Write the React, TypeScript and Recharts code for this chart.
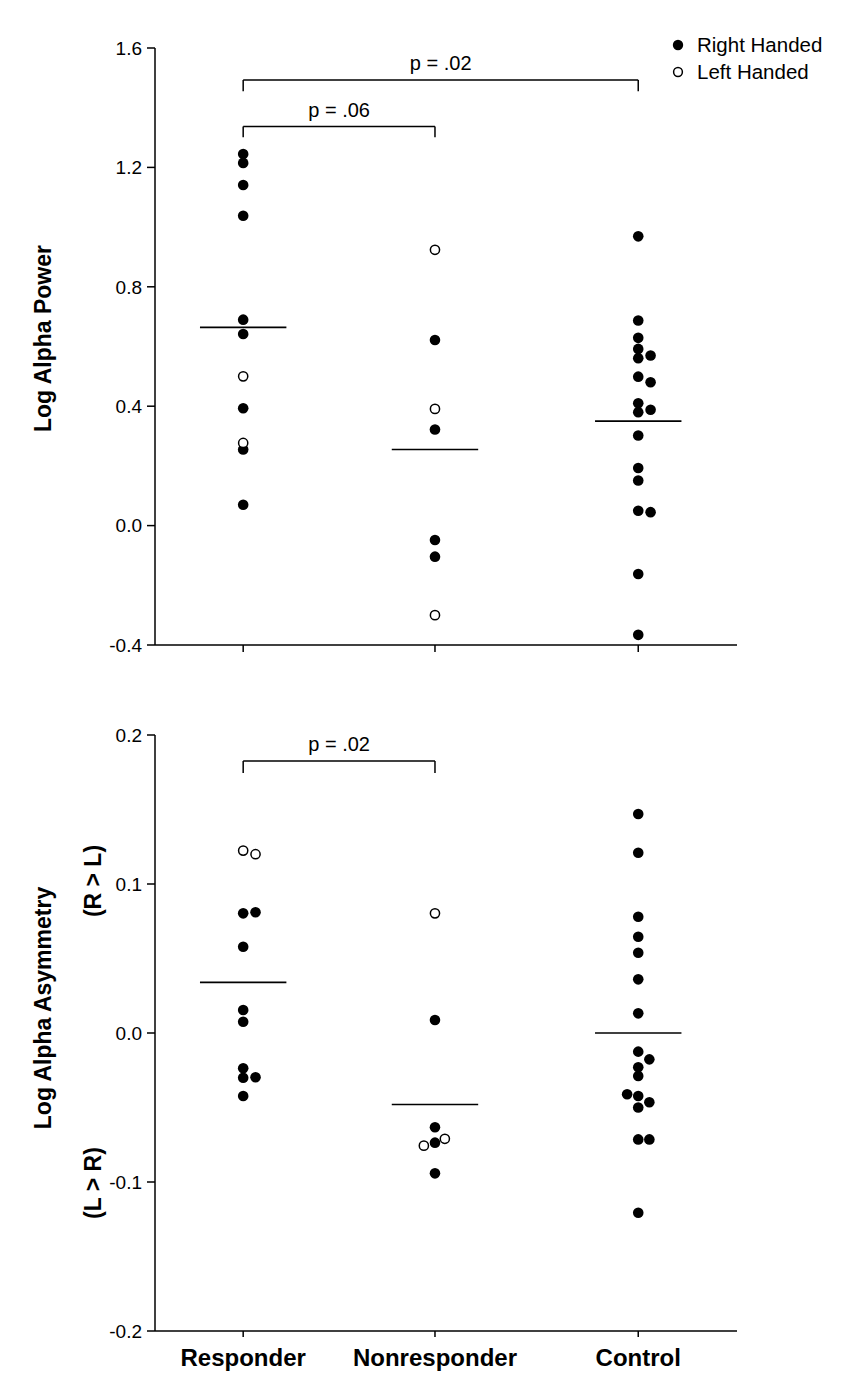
import React from 'react';
import { ScatterChart, Scatter, XAxis, YAxis, ReferenceLine, Label, Legend } from 'recharts';

// ---------- categories ----------
const categories = ['Responder', 'Nonresponder', 'Control'];
const categoryPos = [1, 3.175, 5.48];
const sideStep = 0.14;

// ---------- top panel: Log Alpha Power ----------
const powerTicks = [-0.4, 0, 0.4, 0.8, 1.2, 1.6];
const respPowerRight = [1.245, 1.215, 1.141, 1.038, 0.69, 0.642, 0.393, 0.255, 0.07];
const respPowerLeft = [0.5, 0.277];
const nonPowerRight = [0.622, 0.322, -0.048, -0.104];
const nonPowerLeft = [0.924, 0.391, -0.3];
const ctrlPowerRight = [0.969, 0.687, 0.629, 0.592, 0.561, 0.499, 0.41, 0.38, 0.302, 0.193, 0.151, 0.05, -0.162, -0.366];
const ctrlPowerRightShifted = [0.57, 0.48, 0.388, 0.045];
const powerMeans = [0.664, 0.255, 0.35];
const powerBrackets = [
  { from: 0, to: 2, y: 1.493, drop: 1.455, label: 'p = .02' },
  { from: 0, to: 1, y: 1.337, drop: 1.301, label: 'p = .06' },
];

// ---------- bottom panel: Log Alpha Asymmetry ----------
const asymTicks = [-0.2, -0.1, 0, 0.1, 0.2];
const respAsymRight = [0.0803, 0.0579, 0.0154, 0.0076, -0.0237, -0.03, -0.0423];
const respAsymRightShifted = [0.081, -0.0297];
const respAsymLeft = [0.1224];
const respAsymLeftShifted = [0.12];
const nonAsymRight = [0.0087, -0.0633, -0.0736, -0.0942];
const nonAsymLeft = [0.0803];
const nonAsymLeftShiftedR = [-0.071];
const nonAsymLeftShiftedL = [-0.0756];
const ctrlAsymRight = [0.147, 0.121, 0.078, 0.0646, 0.0539, 0.036, 0.0132, -0.0125, -0.023, -0.0289, -0.0423, -0.05, -0.0714, -0.1206];
const ctrlAsymRightShiftedR = [-0.0177, -0.0465, -0.0714];
const ctrlAsymRightShiftedL = [-0.0411];
const asymMeans = [0.034, -0.048, 0.0];
const asymBrackets = [{ from: 0, to: 1, y: 0.1826, drop: 0.1745, label: 'p = .02' }];

const legendItems = [
  { label: 'Right Handed', open: false },
  { label: 'Left Handed', open: true },
];

const FONT = '"Liberation Sans", Arial, Helvetica, sans-serif';
const INK = '#000';

const pts = (group: number, side: number, values: number[]) =>
  values.map((y) => ({ x: categoryPos[group] + side * sideStep, y }));

const FilledDot = (p: any) => <circle cx={p.cx} cy={p.cy} r={5.3} fill={INK} />;
const OpenDot = (p: any) => <circle cx={p.cx} cy={p.cy} r={4.6} fill="#fff" stroke={INK} strokeWidth={1.5} />;

const meanHalf = 0.49;

function meanLines(means: number[]) {
  return means.map((m, i) => (
    <ReferenceLine
      key={'mean' + i}
      segment={[{ x: categoryPos[i] - meanHalf, y: m }, { x: categoryPos[i] + meanHalf, y: m }]}
      stroke={INK}
      strokeWidth={1.6}
      ifOverflow="visible"
    />
  ));
}

function bracketLines(brackets: { from: number; to: number; y: number; drop: number; label: string }[]) {
  const out: any[] = [];
  brackets.forEach((b, i) => {
    out.push(
      <ReferenceLine
        key={'bh' + i}
        segment={[{ x: categoryPos[b.from], y: b.y }, { x: categoryPos[b.to], y: b.y }]}
        stroke={INK}
        strokeWidth={1.5}
        ifOverflow="visible"
        label={{ value: b.label, position: 'top', offset: 10, fill: INK, fontSize: 20, fontFamily: FONT }}
      />
    );
    out.push(
      <ReferenceLine
        key={'bl' + i}
        segment={[{ x: categoryPos[b.from], y: b.y }, { x: categoryPos[b.from], y: b.drop }]}
        stroke={INK}
        strokeWidth={1.5}
        ifOverflow="visible"
      />
    );
    out.push(
      <ReferenceLine
        key={'br' + i}
        segment={[{ x: categoryPos[b.to], y: b.y }, { x: categoryPos[b.to], y: b.drop }]}
        stroke={INK}
        strokeWidth={1.5}
        ifOverflow="visible"
      />
    );
  });
  return out;
}

const PowerLabel = (props: any) => {
  const vb = props.viewBox || { x: 0, y: 48, width: 155, height: 597 };
  const cx = vb.x + vb.width - 112;
  const cy = vb.y + vb.height / 2 - 8;
  return (
    <text
      x={cx}
      y={cy}
      transform={`rotate(-90, ${cx}, ${cy})`}
      textAnchor="middle"
      dominantBaseline="central"
      fontFamily={FONT}
      fontWeight="bold"
      fontSize={23}
      fill={INK}
    >
      Log Alpha Power
    </text>
  );
};

const AsymLabel = (props: any) => {
  const vb = props.viewBox || { x: 0, y: 45, width: 155, height: 596 };
  const cx = vb.x + vb.width - 112;
  const cx2 = vb.x + vb.width - 62;
  const mid = vb.y + vb.height / 2;
  const cy = mid - 25;
  const cyTop = mid - 152;
  const cyBot = mid + 150;
  const common = {
    textAnchor: 'middle' as const,
    dominantBaseline: 'central' as const,
    fontFamily: FONT,
    fontWeight: 'bold' as const,
    fontSize: 23,
    fill: INK,
  };
  return (
    <g>
      <text x={cx} y={cy} transform={`rotate(-90, ${cx}, ${cy})`} {...common}>
        Log Alpha Asymmetry
      </text>
      <text x={cx2} y={cyTop} transform={`rotate(-90, ${cx2}, ${cyTop})`} {...common}>
        (R &gt; L)
      </text>
      <text x={cx2} y={cyBot} transform={`rotate(-90, ${cx2}, ${cyBot})`} {...common}>
        (L &gt; R)
      </text>
    </g>
  );
};

const LegendContent = () => (
  <div style={{ fontFamily: FONT, fontSize: 20.5, color: INK, lineHeight: '27px' }}>
    {legendItems.map((it) => (
      <div key={it.label} style={{ display: 'flex', alignItems: 'center', height: 27 }}>
        <svg width={20} height={14} style={{ marginRight: 8 }}>
          {it.open ? (
            <circle cx={9} cy={7} r={4.4} fill="#fff" stroke={INK} strokeWidth={1.5} />
          ) : (
            <circle cx={9} cy={7} r={5.2} fill={INK} />
          )}
        </svg>
        <span>{it.label}</span>
      </div>
    ))}
  </div>
);

const axisLine = { stroke: INK, strokeWidth: 1.5 };
const tickLine = { stroke: INK, strokeWidth: 1.5 };
const tickStyle = { fill: INK, fontSize: 19, fontFamily: FONT };

function TopPanel() {
  return (
    <ScatterChart width={845} height={690} margin={{ top: 48, right: 108, bottom: 0, left: 0 }}>
      <XAxis
        type="number"
        dataKey="x"
        domain={[0, 6.6]}
        ticks={categoryPos}
        tickFormatter={() => ''}
        axisLine={axisLine}
        tickLine={tickLine}
        tickSize={7}
        height={45}
        allowDataOverflow
      />
      <YAxis
        type="number"
        dataKey="y"
        domain={[-0.4, 1.6]}
        ticks={powerTicks}
        tickFormatter={(v: number) => v.toFixed(1)}
        axisLine={axisLine}
        tickLine={tickLine}
        tickSize={8}
        tickMargin={5}
        tick={tickStyle}
        width={155}
        allowDataOverflow
      >
        <Label content={<PowerLabel />} />
      </YAxis>
      <Legend
        layout="vertical"
        align="center"
        verticalAlign="middle"
        content={<LegendContent />}
        wrapperStyle={{ position: 'absolute', left: 669, top: 31, width: 176, height: 60 }}
      />
      {meanLines(powerMeans)}
      {bracketLines(powerBrackets)}
      <Scatter name="Right Handed" data={pts(0, 0, respPowerRight)} shape={FilledDot} isAnimationActive={false} />
      <Scatter name="Left Handed" data={pts(0, 0, respPowerLeft)} shape={OpenDot} isAnimationActive={false} />
      <Scatter data={pts(1, 0, nonPowerRight)} shape={FilledDot} isAnimationActive={false} />
      <Scatter data={pts(1, 0, nonPowerLeft)} shape={OpenDot} isAnimationActive={false} />
      <Scatter data={pts(2, 0, ctrlPowerRight)} shape={FilledDot} isAnimationActive={false} />
      <Scatter data={pts(2, 1, ctrlPowerRightShifted)} shape={FilledDot} isAnimationActive={false} />
    </ScatterChart>
  );
}

function BottomPanel() {
  return (
    <ScatterChart width={845} height={690} margin={{ top: 45, right: 108, bottom: 0, left: 0 }}>
      <XAxis
        type="number"
        dataKey="x"
        domain={[0, 6.6]}
        ticks={categoryPos}
        tickFormatter={(v: number) => categories[categoryPos.indexOf(v)] ?? ''}
        axisLine={axisLine}
        tickLine={tickLine}
        tickSize={6}
        tickMargin={12}
        tick={{ fill: INK, fontSize: 24, fontFamily: FONT, fontWeight: 'bold' }}
        height={49}
        interval={0}
        allowDataOverflow
      />
      <YAxis
        type="number"
        dataKey="y"
        domain={[-0.2, 0.2]}
        ticks={asymTicks}
        tickFormatter={(v: number) => v.toFixed(1)}
        axisLine={axisLine}
        tickLine={tickLine}
        tickSize={8}
        tickMargin={5}
        tick={tickStyle}
        width={155}
        allowDataOverflow
      >
        <Label content={<AsymLabel />} />
      </YAxis>
      {meanLines(asymMeans)}
      {bracketLines(asymBrackets)}
      <Scatter data={pts(0, 0, respAsymRight)} shape={FilledDot} isAnimationActive={false} />
      <Scatter data={pts(0, 1, respAsymRightShifted)} shape={FilledDot} isAnimationActive={false} />
      <Scatter data={pts(0, 0, respAsymLeft)} shape={OpenDot} isAnimationActive={false} />
      <Scatter data={pts(0, 1, respAsymLeftShifted)} shape={OpenDot} isAnimationActive={false} />
      <Scatter data={pts(1, 0, nonAsymRight)} shape={FilledDot} isAnimationActive={false} />
      <Scatter data={pts(1, 0, nonAsymLeft)} shape={OpenDot} isAnimationActive={false} />
      <Scatter data={pts(1, 0.8, nonAsymLeftShiftedR)} shape={OpenDot} isAnimationActive={false} />
      <Scatter data={pts(1, -0.9, nonAsymLeftShiftedL)} shape={OpenDot} isAnimationActive={false} />
      <Scatter data={pts(2, 0, ctrlAsymRight)} shape={FilledDot} isAnimationActive={false} />
      <Scatter data={pts(2, 0.9, ctrlAsymRightShiftedR)} shape={FilledDot} isAnimationActive={false} />
      <Scatter data={pts(2, -0.9, ctrlAsymRightShiftedL)} shape={FilledDot} isAnimationActive={false} />
    </ScatterChart>
  );
}

export default function App() {
  return (
    <div style={{ fontFamily: FONT, background: '#fff' }}>
      <div style={{ position: 'absolute', left: 0, top: 0, width: 845, height: 690 }}>
        <TopPanel />
      </div>
      <div style={{ position: 'absolute', left: 0, top: 690, width: 845, height: 690 }}>
        <BottomPanel />
      </div>
    </div>
  );
}
